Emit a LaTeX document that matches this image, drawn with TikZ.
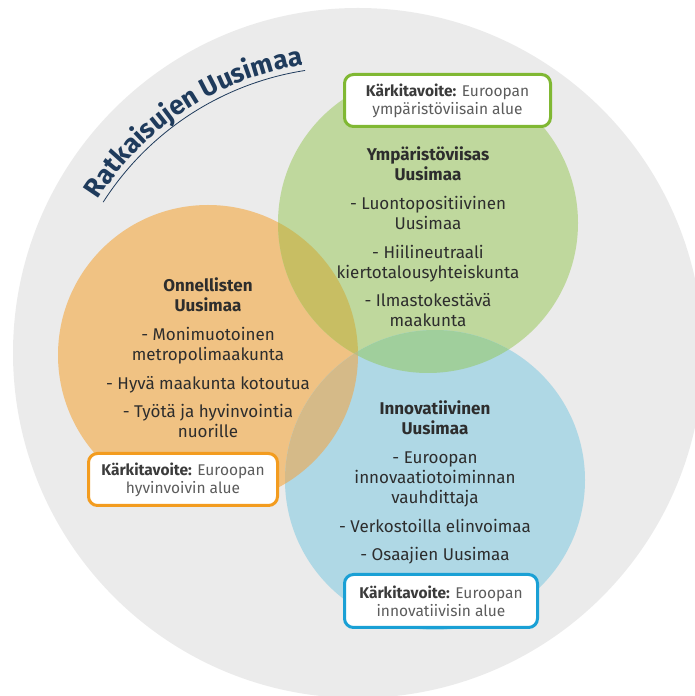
\documentclass[tikz,border=0pt]{standalone}
\usepackage{fontspec}
\setmainfont{Fira Sans}
\usetikzlibrary{decorations.text}
\definecolor{greyc}{HTML}{EBEBEB}
\definecolor{orangec}{HTML}{F0C283}
\definecolor{greenc}{HTML}{BFD89D}
\definecolor{bluec}{HTML}{AFD8E5}
\definecolor{ogc}{HTML}{C8BE63}
\definecolor{gbc}{HTML}{A0CF9C}
\definecolor{obc}{HTML}{D5BA88}
\definecolor{tric}{HTML}{B9BD82}
\definecolor{greenb}{HTML}{80B833}
\definecolor{orangeb}{HTML}{F39C1F}
\definecolor{blueb}{HTML}{1AA0D5}
\definecolor{navy}{HTML}{1F3B5C}
\definecolor{bodyc}{HTML}{2D2D2D}
\definecolor{kboldc}{HTML}{3B3B3B}
\definecolor{kregc}{HTML}{5C5C5C}
\tikzset{
  kbox/.style={draw, line width=3pt, rounded corners=9pt, fill=white, inner sep=0pt, align=center,
    font=\fontsize{15.5}{18}\selectfont},
  body/.style={anchor=north, inner sep=0pt, align=center, text=bodyc,
    font=\fontsize{17}{20}\selectfont},
}
\newcommand{\kark}[2]{{\color{kboldc}\bfseries Kärkitavoite:} {\color{kregc}#1}\\{\color{kregc}#2}}
\begin{document}
\begin{tikzpicture}[x=1pt,y=1pt]
\useasboundingbox (0,0) rectangle (695,696);
\clip (0,0) rectangle (695,696);
\fill[greyc] (358,343) circle (345);
\coordinate (co) at (208,341);
\coordinate (cg) at (428,473);
\coordinate (cb) at (435,216);
\fill[orangec] (co) circle (150);
\fill[greenc] (cg) circle (150);
\fill[bluec] (cb) circle (150);
\begin{scope}\clip (co) circle (150); \fill[ogc] (cg) circle (150);\end{scope}
\begin{scope}\clip (cg) circle (150); \fill[gbc] (cb) circle (150);\end{scope}
\begin{scope}\clip (co) circle (150); \fill[obc] (cb) circle (150);\end{scope}
\begin{scope}\clip (co) circle (150); \clip (cg) circle (150); \fill[tric] (cb) circle (150);\end{scope}
% title along arc
\coordinate (tc) at (350,336);
\path[decorate, decoration={text along path, text align=center, text color=navy,
  text={|\bfseries\fontsize{26.5}{26.5}\selectfont|Ratkaisujen Uusimaa}}]
  (tc) ++(152:298.5) arc[start angle=152, end angle=94.5, radius=298.5];
\draw[navy, line width=0.8pt] (tc) ++(147.4:293) arc[start angle=147.4, end angle=98.8, radius=293];
% boxes
\node[kbox, draw=greenb, minimum width=206pt, minimum height=52pt] (kg) at (447.5,595.5)
  {\kark{Euroopan}{ympäristöviisain alue}};
\node[kbox, draw=orangeb, minimum width=189pt, minimum height=52pt] (ko) at (183,216.5)
  {\kark{Euroopan}{hyvinvoivin alue}};
\node[kbox, draw=blueb, minimum width=193pt, minimum height=53pt] (kb) at (441,95)
  {\kark{Euroopan}{innovatiivisin alue}};
% circle texts
\node[body] (tg) at (428,549.5) {{\bfseries Ympäristöviisas}\\{\bfseries Uusimaa}\\[9.5pt]
  - Luontopositiivinen\\Uusimaa\\[8.5pt]- Hiilineutraali\\kiertotalousyhteiskunta\\[8.5pt]
  - Ilmastokestävä\\maakunta};
\node[body] (to) at (208,418.5) {{\bfseries Onnellisten}\\{\bfseries Uusimaa}\\[9pt]
  - Monimuotoinen\\metropolimaakunta\\[9pt]- Hyvä maakunta kotoutua\\[8.5pt]
  - Työtä ja hyvinvointia\\nuorille};
\node[body] (tb) at (435,295) {{\bfseries Innovatiivinen}\\{\bfseries Uusimaa}\\[9pt]
  - Euroopan\\innovaatiotoiminnan\\vauhdittaja\\[9pt]- Verkostoilla elinvoimaa\\[7.5pt]
  - Osaajien Uusimaa};
\end{tikzpicture}
\end{document}
